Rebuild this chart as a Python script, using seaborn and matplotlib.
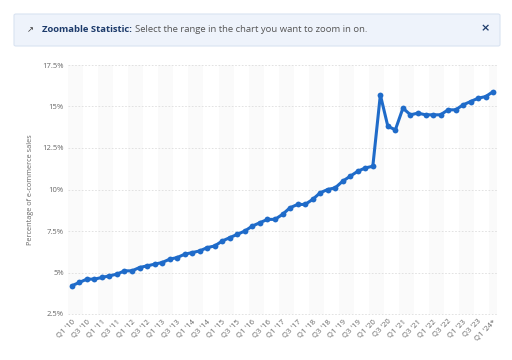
import seaborn as sns
import pandas as pd
import matplotlib.pyplot as plt
from matplotlib.patches import FancyBboxPatch

# quarterly share of e-commerce in total retail sales, Q1 2010 .. Q1 2024
years = list(range(10, 25))
share = [4.2, 4.4, 4.6, 4.6, 4.7, 4.8, 4.9, 5.1,
         5.1, 5.3, 5.4, 5.5, 5.6, 5.8, 5.9, 6.1,
         6.2, 6.3, 6.5, 6.6, 6.9, 7.1, 7.3, 7.5,
         7.8, 8.0, 8.2, 8.2, 8.5, 8.9, 9.1, 9.1,
         9.4, 9.8, 10.0, 10.1, 10.5, 10.8, 11.1, 11.3,
         11.4, 15.7, 13.8, 13.6, 14.9, 14.5, 14.6, 14.5,
         14.5, 14.5, 14.8, 14.8, 15.1, 15.3, 15.5, 15.6,
         15.9]
yticks = [2.5, 5, 7.5, 10, 12.5, 15, 17.5]
ytick_labels = ['2.5%', '5%', '7.5%', '10%', '12.5%', '15%', '17.5%']

quarters = []
for y in years:
    for q in range(1, 5):
        quarters.append("Q%d '%02d" % (q, y))
quarters = quarters[:len(share)]
quarters[-1] = quarters[-1] + '*'

df = pd.DataFrame(dict(pos=range(len(share)), share=share, label=quarters))

sns.set_theme(style='white')
plt.rcParams['font.family'] = ['Open Sans', 'DejaVu Sans']

fig = plt.figure(figsize=(5.12, 3.6), dpi=100)
fig.patch.set_facecolor('white')

# banner on top
banner = FancyBboxPatch((14 / 512, 1 - 46 / 360), 486 / 512, 32 / 360,
                        boxstyle='round,pad=0,rounding_size=0.004',
                        transform=fig.transFigure, facecolor='#eef3fb',
                        edgecolor='#d9e3f1', linewidth=0.8)
fig.patches.append(banner)
fig.text(27 / 512, 1 - 30 / 360, '↗', fontsize=6, color='#333333', va='center',
         family=['DejaVu Sans'])
bold = fig.text(42 / 512, 1 - 29 / 360, 'Zoomable Statistic:', fontsize=6.8,
                fontweight='bold', color='#1d3b6b', va='center')
renderer = fig.canvas.get_renderer()
bb = bold.get_window_extent(renderer)
fig.text((bb.x1 + 3) / 512, 1 - 29 / 360,
         'Select the range in the chart you want to zoom in on.',
         fontsize=6.8, color='#555555', va='center')
fig.text(485 / 512, 1 - 28 / 360, '×', fontsize=8, fontweight='bold',
         color='#1d3b6b', va='center', ha='center', family=['DejaVu Sans'])

ax = fig.add_axes([68 / 512, 1 - 314 / 360, 429 / 512, 249 / 360])

# alternating light column bands
for k in range(0, len(share), 4):
    ax.axvspan(k - 0.5, k + 1.5, color='#fafafa', zorder=0, linewidth=0)

for t in yticks:
    ax.axhline(t, color='#dddddd', linewidth=0.6, linestyle=(0, (2, 2)), zorder=1)

sns.lineplot(data=df, x='pos', y='share', ax=ax, color='#1f6bc9', linewidth=2.2,
             marker='o', markersize=4.2, markeredgewidth=0, zorder=3)
for line in ax.lines:
    line.set_clip_on(False)

ax.set_xlim(-0.5, len(share) - 0.5)
ax.set_ylim(2.5, 17.5)
ax.set_yticks(yticks)
ax.set_yticklabels(ytick_labels, fontsize=5.5, color='#666666')
ax.set_xticks(df['pos'][::2])
ax.set_xticklabels(df['label'][::2], rotation=45, ha='right',
                   rotation_mode='anchor', fontsize=5.5, color='#666666')
ax.tick_params(axis='both', length=0, pad=3)
ax.set_xlabel('')
ax.set_ylabel('Percentage of e-commerce sales', fontsize=5.2, color='#666666', labelpad=6)
for s in ax.spines.values():
    s.set_visible(False)
ax.grid(False)

plt.savefig('out.png', dpi=100)
